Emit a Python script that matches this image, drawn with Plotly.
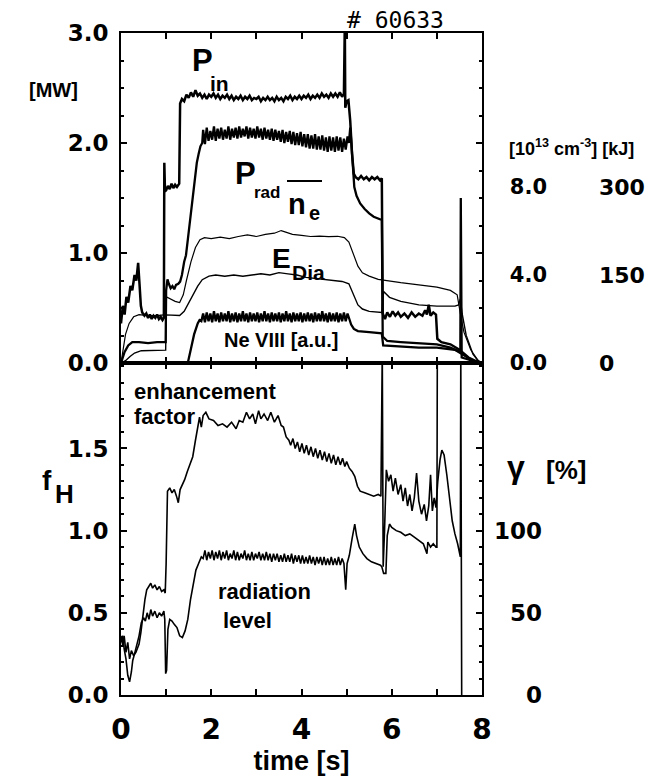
import plotly.graph_objects as go

# ---------------- data (time in s) ----------------
# top panel, left axis [MW]
P_IN = [(0.00,0.36),(0.04,0.52),(0.08,0.44),(0.12,0.60),(0.16,0.55),(0.21,0.70),(0.25,0.66),(0.30,0.80),
        (0.34,0.75),(0.38,0.91),(0.41,0.72),(0.44,0.52),(0.47,0.46),(0.52,0.43),(0.56,0.45),(0.60,0.41),
        (0.64,0.44),(0.68,0.40),(0.72,0.43),(0.76,0.41),(0.80,0.44),(0.84,0.40),(0.88,0.42),(0.92,0.39),
        (0.95,0.41),(0.96,1.82),(0.975,1.56),(1.00,1.57),(1.04,1.61),(1.08,1.58),(1.12,1.63),(1.16,1.59),
        (1.20,1.62),(1.24,1.60),(1.29,1.63),(1.31,2.36),(1.35,2.40),(1.40,2.38),(1.45,2.44),(1.50,2.41),
        (1.55,2.46),(1.60,2.42),(1.65,2.48),(1.70,2.43),(1.75,2.45),(1.80,2.41),(1.85,2.44),(1.90,2.40),
        (1.95,2.44),(2.00,2.42),(2.05,2.45),(2.10,2.41),(2.15,2.44),(2.20,2.40),(2.25,2.43),(2.30,2.41),
        (2.35,2.44),(2.40,2.40),(2.45,2.43),(2.50,2.39),(2.55,2.42),(2.60,2.40),(2.65,2.43),(2.70,2.39),
        (2.75,2.42),(2.80,2.40),(2.85,2.43),(2.90,2.39),(2.95,2.41),(3.00,2.40),(3.05,2.42),(3.10,2.38),
        (3.15,2.41),(3.20,2.39),(3.25,2.42),(3.30,2.39),(3.35,2.41),(3.40,2.38),(3.45,2.42),(3.50,2.39),
        (3.55,2.41),(3.60,2.38),(3.65,2.42),(3.70,2.40),(3.75,2.43),(3.80,2.39),(3.85,2.42),(3.90,2.40),
        (3.95,2.43),(4.00,2.40),(4.05,2.43),(4.10,2.41),(4.15,2.44),(4.20,2.40),(4.25,2.43),(4.30,2.41),
        (4.35,2.44),(4.40,2.41),(4.45,2.45),(4.50,2.42),(4.55,2.44),(4.60,2.41),(4.65,2.45),(4.70,2.42),
        (4.75,2.45),(4.80,2.42),(4.85,2.46),(4.90,2.42),(4.94,2.45),(4.96,3.10),(4.97,2.32),(5.00,2.38),
        (5.04,2.39),(5.08,2.20),(5.12,1.90),(5.16,1.72),(5.20,1.69),(5.26,1.67),(5.32,1.70),(5.38,1.67),
        (5.44,1.69),(5.50,1.66),(5.56,1.69),(5.62,1.67),(5.68,1.69),(5.74,1.66),(5.78,1.68),(5.80,0.45),
        (5.85,0.40),(5.90,0.46),(5.96,0.42),(6.02,0.47),(6.08,0.43),(6.14,0.46),(6.20,0.42),(6.28,0.45),
        (6.36,0.41),(6.44,0.46),(6.52,0.42),(6.60,0.45),(6.68,0.43),(6.74,0.48),(6.78,0.44),(6.82,0.53),
        (6.86,0.43),(6.92,0.46),(6.98,0.44),(7.01,0.22),(7.10,0.19),(7.30,0.17),(7.50,0.12),(7.70,0.05),
        (7.90,0.01),(8.00,0.00)]

P_RAD = [(0.00,0.00),(0.08,0.10),(0.16,0.16),(0.25,0.19),(0.40,0.19),(0.60,0.18),(0.80,0.19),(0.99,0.19),
         (1.00,0.66),(1.03,0.76),(1.06,0.72),(1.10,0.68),(1.14,0.70),(1.18,0.67),(1.22,0.71),(1.27,0.72),
         (1.31,0.74),(1.35,0.80),(1.40,0.92),(1.44,0.98),(1.48,1.12),(1.53,1.30),(1.58,1.50),(1.63,1.68),
         (1.68,1.82),(1.72,1.90),(1.76,1.97),
         (1.80,2.00),(1.82,2.12),(1.86,1.99),(1.90,2.14),(1.94,2.02),(1.98,2.11),(2.02,2.03),(2.06,2.15),
         (2.10,2.02),(2.14,2.13),(2.18,2.04),(2.22,2.14),(2.26,2.03),(2.30,2.12),(2.34,2.04),(2.38,2.15),
         (2.42,2.03),(2.46,2.13),(2.50,2.05),(2.54,2.14),(2.58,2.04),(2.62,2.15),(2.66,2.05),(2.70,2.13),
         (2.74,2.06),(2.78,2.15),(2.82,2.04),(2.86,2.14),(2.90,2.05),(2.94,2.13),(2.98,2.04),(3.02,2.15),
         (3.06,2.05),(3.10,2.13),(3.14,2.03),(3.18,2.14),(3.22,2.04),(3.26,2.12),(3.30,2.03),(3.34,2.13),
         (3.38,2.02),(3.42,2.12),(3.46,2.03),(3.50,2.11),(3.54,2.01),(3.58,2.12),(3.62,2.00),(3.66,2.10),
         (3.70,2.01),(3.74,2.11),(3.78,1.99),(3.82,2.10),(3.86,1.98),(3.90,2.09),(3.94,1.98),(3.98,2.10),
         (4.02,1.97),(4.06,2.08),(4.10,1.96),(4.14,2.08),(4.18,1.95),(4.22,2.07),(4.26,1.95),(4.30,2.08),
         (4.34,1.94),(4.38,2.06),(4.42,1.94),(4.46,2.07),(4.50,1.93),(4.54,2.05),(4.58,1.92),(4.62,2.06),
         (4.66,1.93),(4.70,2.05),(4.74,1.92),(4.78,2.06),(4.82,1.93),(4.86,2.05),(4.90,1.92),(4.94,2.04),
         (4.98,1.94),(5.02,2.06),(5.05,2.00),(5.08,2.14),(5.10,2.03),(5.13,1.82),(5.17,1.60),(5.22,1.52),
         (5.30,1.45),(5.40,1.40),(5.50,1.36),(5.60,1.33),(5.70,1.31),(5.78,1.30),(5.80,0.24),(5.90,0.20),
         (6.20,0.19),(6.60,0.18),(7.00,0.17),(7.30,0.14),(7.52,0.10),(7.53,1.50),(7.55,0.05),(7.80,0.02),
         (8.00,0.00)]

NE_VIII = [(0.00,0.00),(1.48,0.00),(1.55,0.13),(1.62,0.26),(1.70,0.36),(1.74,0.39),
           (1.78,0.38),(1.82,0.45),(1.86,0.37),(1.90,0.46),(1.94,0.38),(1.98,0.45),(2.02,0.37),(2.06,0.47),
           (2.10,0.38),(2.14,0.45),(2.18,0.37),(2.22,0.46),(2.26,0.38),(2.30,0.45),(2.34,0.38),(2.38,0.47),
           (2.42,0.37),(2.46,0.45),(2.50,0.38),(2.54,0.46),(2.58,0.37),(2.62,0.45),(2.66,0.38),(2.70,0.47),
           (2.74,0.38),(2.78,0.45),(2.82,0.37),(2.86,0.46),(2.90,0.38),(2.94,0.45),(2.98,0.38),(3.02,0.46),
           (3.06,0.37),(3.10,0.45),(3.14,0.38),(3.18,0.47),(3.22,0.38),(3.26,0.45),(3.30,0.37),(3.34,0.46),
           (3.38,0.38),(3.42,0.45),(3.46,0.38),(3.50,0.46),(3.54,0.37),(3.58,0.45),(3.62,0.38),(3.66,0.47),
           (3.70,0.38),(3.74,0.45),(3.78,0.37),(3.82,0.46),(3.86,0.38),(3.90,0.45),(3.94,0.38),(3.98,0.46),
           (4.02,0.37),(4.06,0.45),(4.10,0.38),(4.14,0.46),(4.18,0.38),(4.22,0.45),(4.26,0.37),(4.30,0.46),
           (4.34,0.38),(4.38,0.45),(4.42,0.38),(4.46,0.47),(4.50,0.38),(4.54,0.45),(4.58,0.37),(4.62,0.46),
           (4.66,0.38),(4.70,0.45),(4.74,0.38),(4.78,0.46),(4.82,0.37),(4.86,0.45),(4.90,0.38),(4.94,0.46),
           (4.98,0.38),(5.02,0.45),(5.06,0.40),(5.10,0.35),(5.16,0.31),(5.25,0.29),(5.50,0.28),(5.78,0.27),
           (5.81,0.16),(6.20,0.15),(6.60,0.14),(7.00,0.14),(7.40,0.12),(7.60,0.07),(7.80,0.02),(8.00,0.00)]

# top panel, right axis: line density [10^13 cm^-3]
NE_BAR = [(0.00,0.00),(0.05,0.75),(0.10,1.30),(0.18,1.80),(0.28,2.10),(0.40,2.20),(0.60,2.15),(0.80,2.15),
          (0.99,2.20),(1.01,3.00),(1.10,2.90),(1.20,2.80),(1.30,2.75),(1.38,3.10),(1.45,3.75),(1.55,4.60),
          (1.65,5.25),(1.75,5.60),(1.85,5.70),(2.00,5.65),(2.20,5.72),(2.40,5.65),(2.60,5.75),(2.80,5.82),
          (3.00,5.75),(3.20,5.85),(3.40,5.90),(3.55,6.02),(3.65,5.95),(3.80,5.85),(4.00,5.80),(4.20,5.75),
          (4.40,5.77),(4.60,5.74),(4.80,5.76),(4.95,5.70),(5.05,5.50),(5.15,4.90),(5.25,4.40),(5.35,4.10),
          (5.50,3.95),(5.70,3.80),(5.85,3.75),(6.20,3.65),(6.60,3.55),(7.00,3.45),(7.30,3.30),(7.45,3.10),
          (7.52,2.25),(7.60,1.40),(7.75,0.60),(7.90,0.15),(8.00,0.00)]

# top panel, right axis: diamagnetic energy [kJ]
E_DIA = [(0.00,0),(0.10,4),(0.20,11),(0.30,17),(0.45,21),(0.70,22),(0.99,22),(1.00,82),(1.15,82),
         (1.30,81),(1.40,88),(1.50,103),(1.60,118),(1.70,131),(1.80,142),(1.95,148),(2.10,150),(2.30,148),
         (2.50,150),(2.70,148),(2.90,150),(3.10,152),(3.30,150),(3.50,154),(3.70,152),(3.90,150),(4.10,146),
         (4.30,144),(4.50,142),(4.70,141),(4.90,139),(5.05,135),(5.15,116),(5.25,99),(5.35,92),(5.50,88),
         (5.78,86),(5.82,122),(5.95,112),(6.20,105),(6.60,99),(7.00,97),(7.40,97),(7.48,99),(7.52,109),
         (7.56,84),(7.65,47),(7.80,15),(7.95,0)]

# bottom panel: enhancement factor f_H (left) and radiation level gamma [%] (right)
F_H = [(0.00,0.36),(0.04,0.30),(0.07,0.36),(0.11,0.26),(0.15,0.32),(0.19,0.22),(0.23,0.27),(0.28,0.24),
       (0.33,0.26),(0.40,0.31),(0.44,0.38),(0.49,0.50),(0.53,0.58),(0.57,0.64),(0.62,0.66),(0.66,0.68),
       (0.70,0.65),(0.75,0.67),(0.80,0.64),(0.85,0.66),(0.90,0.63),(0.95,0.64),(0.98,0.62),(1.00,0.80),
       (1.03,1.24),(1.08,1.26),(1.13,1.23),(1.18,1.25),(1.23,1.21),(1.27,1.17),(1.31,1.25),(1.36,1.28),
       (1.41,1.31),(1.47,1.36),(1.53,1.40),(1.59,1.45),(1.65,1.55),(1.70,1.64),(1.74,1.69),(1.78,1.63),
       (1.82,1.70),(1.88,1.72),(1.95,1.68),(2.05,1.67),(2.15,1.64),(2.25,1.65),(2.35,1.63),(2.45,1.66),
       (2.55,1.62),(2.62,1.67),(2.70,1.66),(2.78,1.72),(2.85,1.68),(2.92,1.71),(2.98,1.65),(3.05,1.73),
       (3.10,1.68),(3.17,1.71),(3.25,1.67),(3.32,1.72),(3.40,1.66),(3.48,1.70),(3.55,1.64),(3.60,1.63),
       (3.66,1.57),(3.72,1.55),(3.76,1.52),(3.81,1.56),(3.86,1.50),(3.91,1.54),(3.96,1.48),(4.01,1.53),
       (4.06,1.47),(4.11,1.52),(4.16,1.46),(4.21,1.51),(4.26,1.45),(4.31,1.50),(4.36,1.44),(4.41,1.49),
       (4.46,1.43),(4.51,1.48),(4.56,1.42),(4.61,1.47),(4.66,1.41),(4.71,1.46),(4.76,1.40),(4.81,1.45),
       (4.86,1.40),(4.91,1.44),(4.96,1.39),(5.00,1.42),(5.06,1.38),(5.12,1.36),(5.18,1.33),(5.24,1.27),
       (5.30,1.24),(5.40,1.23),(5.50,1.22),(5.60,1.21),(5.70,1.22),(5.76,1.21),(5.79,2.10),(5.81,0.78),
       (5.84,1.00),(5.88,1.37),(5.93,1.30),(5.98,1.34),(6.03,1.24),(6.08,1.32),(6.14,1.22),(6.20,1.28),
       (6.25,1.18),(6.30,1.26),(6.35,1.15),(6.40,1.22),(6.45,1.12),(6.50,1.20),(6.55,1.35),(6.60,1.18),
       (6.66,1.10),(6.72,1.16),(6.77,1.06),(6.82,1.15),(6.86,1.34),(6.90,1.12),(6.94,1.20),(6.98,1.14),
       (7.02,1.30),(7.07,1.43),(7.11,1.49),(7.16,1.46),(7.22,1.34),(7.28,1.20),(7.34,1.06),(7.40,0.98),
       (7.46,0.92),(7.52,0.84),(7.53,2.10),(7.55,0.00)]

GAMMA = [(0.00,32),(0.04,36),(0.07,28),(0.11,22),(0.15,12),(0.19,8),(0.23,14),(0.26,21),(0.30,25),
         (0.35,30),(0.40,36),(0.45,44),(0.50,47),(0.54,45),(0.58,50),(0.62,46),(0.66,52),(0.70,48),
         (0.75,51),(0.80,47),(0.85,50),(0.90,48),(0.95,51),(0.97,46),(0.99,13),(1.01,15),(1.04,40),
         (1.08,46),(1.13,45),(1.18,43),(1.24,41),(1.30,36),(1.36,35),(1.42,39),(1.48,46),(1.54,58),
         (1.60,68),(1.66,76),(1.72,80),(1.78,84),
         (1.82,83),(1.86,88),(1.90,82),(1.94,87),(1.98,83),(2.02,88),(2.06,82),(2.10,87),(2.14,83),
         (2.18,88),(2.22,82),(2.26,87),(2.30,83),(2.34,88),(2.38,82),(2.42,86),(2.46,83),(2.50,88),
         (2.54,82),(2.58,87),(2.62,82),(2.66,86),(2.70,83),(2.74,88),(2.78,82),(2.82,86),(2.86,82),
         (2.90,87),(2.94,82),(2.98,86),(3.02,83),(3.06,87),(3.10,82),(3.14,86),(3.18,82),(3.22,87),
         (3.26,82),(3.30,86),(3.34,81),(3.38,86),(3.42,82),(3.46,86),(3.50,81),(3.54,85),(3.58,81),
         (3.62,86),(3.66,81),(3.70,85),(3.74,81),(3.78,86),(3.82,80),(3.86,85),(3.90,81),(3.94,85),
         (3.98,80),(4.02,85),(4.06,80),(4.10,84),(4.14,80),(4.18,85),(4.22,80),(4.26,84),(4.30,79),
         (4.34,84),(4.38,80),(4.42,84),(4.46,79),(4.50,84),(4.54,79),(4.58,83),(4.62,79),(4.66,84),
         (4.70,79),(4.74,83),(4.78,79),(4.82,84),(4.86,79),(4.90,83),(4.94,80),(4.98,64),(5.01,80),
         (5.06,85),(5.12,95),(5.18,104),(5.22,97),(5.28,90),(5.36,86),(5.45,83),(5.55,81),(5.65,80),
         (5.75,79),(5.78,78),(5.82,74),(5.87,74),(5.90,97),(5.95,104),(6.00,102),(6.10,100),(6.20,99),
         (6.30,97),(6.40,98),(6.50,96),(6.60,94),(6.70,92),(6.78,86),(6.80,93),(6.86,90),(6.92,92),
         (6.98,90),(7.00,90),(7.01,210)]

X_TICKS = [0, 2, 4, 6, 8]
TOP_TICKS = [0.0, 1.0, 2.0, 3.0]
BOT_TICKS = [0.0, 0.5, 1.0, 1.5]
NE_TICKS = [0.0, 4.0, 8.0]
KJ_TICKS = [0, 150, 300]
GAMMA_TICKS = [0, 50, 100]

# ---------------- figure ----------------
W, H = 659, 776
ML, MR, MT, MB = 121, 10, 33, 81
PW, PH = W - ML - MR, H - MT - MB
X_RIGHT = 482
Y_MID = 363


def fx(px):
    return (px - ML) / PW


def fy(py):
    return (H - MB - py) / PH


SPLIT = fy(Y_MID)
XDOM = [0, fx(X_RIGHT)]

NUM = "DejaVu Sans"
TXT = "Liberation Sans"


def unzip(pairs):
    return [p[0] for p in pairs], [p[1] for p in pairs]


fig = go.Figure()


def add(pairs, xa, ya, width):
    t, v = unzip(pairs)
    fig.add_trace(go.Scatter(x=t, y=v, mode="lines", xaxis=xa, yaxis=ya,
                             line=dict(color="black", width=width), hoverinfo="skip"))


add(NE_BAR, "x2", "y3", 1.2)
add(E_DIA, "x2", "y4", 1.4)
add(NE_VIII, "x2", "y2", 2.3)
add(P_RAD, "x2", "y2", 2.3)
add(P_IN, "x2", "y2", 2.5)
add(GAMMA, "x", "y5", 1.6)
add(F_H, "x", "y", 1.6)

frame = dict(showline=True, linecolor="black", linewidth=2, mirror="allticks", automargin=False,
             ticks="inside", tickcolor="black", tickwidth=1.5, showgrid=False, zeroline=False)
free = dict(showline=False, showgrid=False, zeroline=False, ticks="", automargin=False)

fig.update_layout(
    width=W, height=H, margin=dict(l=ML, r=MR, t=MT, b=MB, autoexpand=False),
    paper_bgcolor="white", plot_bgcolor="white", showlegend=False,
    xaxis=dict(domain=XDOM, anchor="y", range=[0, 8], tickvals=X_TICKS, ticklen=6,
               minor=dict(tickmode="linear", tick0=0, dtick=1, ticks="inside", ticklen=4, tickcolor="black"),
               tickfont=dict(family=NUM, size=28, color="black", weight="bold"), ticklabelstandoff=8,
               title=dict(text="time [s]", standoff=8,
                          font=dict(family=TXT, size=27, color="black", weight="bold")),
               **frame),
    xaxis2=dict(domain=XDOM, anchor="y2", matches="x", range=[0, 8], tickvals=X_TICKS, ticklen=6,
                showticklabels=False,
                minor=dict(tickmode="linear", tick0=0, dtick=1, ticks="inside", ticklen=4, tickcolor="black"),
                **frame),
    yaxis=dict(domain=[0, SPLIT], anchor="x", range=[0, 2.02], tickvals=BOT_TICKS, tickformat=".1f",
               ticklen=6,
               minor=dict(tickmode="linear", tick0=0, dtick=0.1, ticks="inside", ticklen=3, tickcolor="black"),
               tickfont=dict(family=NUM, size=23, color="black", weight="bold"), ticklabelstandoff=6,
               **frame),
    yaxis2=dict(domain=[SPLIT, 1], anchor="x2", range=[0, 3], tickvals=TOP_TICKS, tickformat=".1f",
                ticklen=6,
                minor=dict(tickmode="linear", tick0=0, dtick=0.25, ticks="inside", ticklen=3, tickcolor="black"),
                tickfont=dict(family=NUM, size=23, color="black", weight="bold"), ticklabelstandoff=6,
                **frame),
    yaxis3=dict(overlaying="y2", anchor="free", side="left", position=fx(547), range=[0, 15],
                tickvals=NE_TICKS, tickformat=".1f",
                tickfont=dict(family=NUM, size=21, color="black", weight="bold"), **free),
    yaxis4=dict(overlaying="y2", anchor="free", side="right", position=fx(598), range=[0, 562.5],
                tickvals=KJ_TICKS,
                tickfont=dict(family=NUM, size=22, color="black", weight="bold"), **free),
    yaxis5=dict(overlaying="y", anchor="free", side="left", position=fx(542), range=[0, 202],
                tickvals=GAMMA_TICKS,
                tickfont=dict(family=NUM, size=23, color="black", weight="bold"), **free),
)


def label(text, cx, cy, size, family=TXT, bold=True):
    fig.add_annotation(text=text, x=fx(cx), y=fy(cy), xref="paper", yref="paper",
                       xanchor="center", yanchor="middle", showarrow=False,
                       font=dict(family=family, size=size, color="black",
                                 weight="bold" if bold else "normal"))


label("[MW]", 53, 90, 20)
label("# 60633", 395, 20, 23, family="DejaVu Sans Mono", bold=False)
label("P", 202, 61, 31)
label("in", 219, 84, 21)
label("P", 245, 174, 31)
label("rad", 267, 192, 17)
label("n", 297, 204, 29)
label("e", 314, 213, 20)
label("E", 281, 258, 28)
label("Dia", 308, 272, 21)
label("Ne VIII [a.u.]", 281, 340, 20)
label("[10<sup>13</sup> cm<sup>-3</sup>] [kJ]", 571, 147, 18)
label("enhancement", 205, 391, 22)
label("factor", 165, 416, 22)
label("f", 47, 480, 28)
label("H", 64, 494, 26)
label("radiation", 264, 591, 22)
label("level", 247, 620, 22)
label("γ", 516, 467, 32)
label("[%]", 566, 470, 26)

# overline of the density symbol
fig.add_shape(type="line", xref="paper", yref="paper", x0=fx(287), x1=fx(322), y0=fy(181), y1=fy(181),
              line=dict(color="black", width=2))

fig.write_html("out.html")
